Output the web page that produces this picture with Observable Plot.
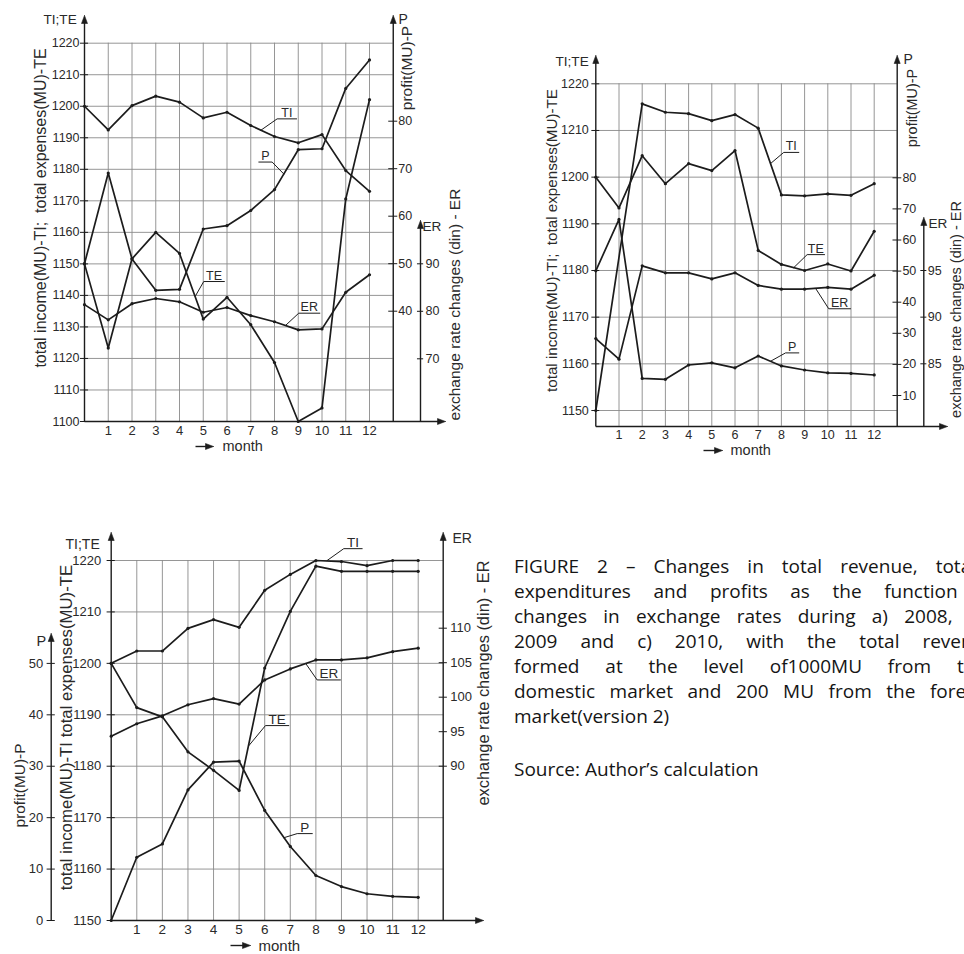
<!DOCTYPE html>
<html>
<head>
<meta charset="utf-8">
<script src="https://cdn.jsdelivr.net/npm/d3@7"></script>
<script src="https://cdn.jsdelivr.net/npm/@observablehq/plot@0.6"></script>
<style>
  html, body { margin: 0; padding: 0; background: #fff; }
  body { width: 964px; height: 954px; position: relative; overflow: hidden; }
  #stage { position: absolute; left: 0; top: 0; width: 964px; height: 954px; }
  #caption { position: absolute; left: 514px; top: 554px; font-family: "Open Sans", "Noto Sans", sans-serif;
             font-size: 19px; line-height: 25px; color: #151515; }
  #caption .jl { white-space: nowrap; text-align: justify; text-align-last: justify; }
  #caption .last { white-space: nowrap; }
  #source { position: absolute; left: 514px; top: 757px; font-family: "Open Sans", "Noto Sans", sans-serif;
            font-size: 19px; line-height: 25px; color: #151515; white-space: nowrap; }
</style>
</head>
<body>
<div id="stage"></div>
<div id="caption">
  <div class="jl" style="width:462px">FIGURE 2 – Changes in total revenue, total</div>
  <div class="jl" style="width:484px">expenditures and profits as the function of</div>
  <div class="jl" style="width:472px">changes in exchange rates during a) 2008, b)</div>
  <div class="jl" style="width:481px">2009 and c) 2010, with the total revenue</div>
  <div class="jl" style="width:472px">formed at the level of1000MU from the</div>
  <div class="jl" style="width:479px">domestic market and 200 MU from the foreign</div>
  <div class="last">market(version 2)</div>
</div>
<div id="source">Source: Author’s calculation</div>
<script>
// ---------------- data ----------------
const months = [0, 1, 2, 3, 4, 5, 6, 7, 8, 9, 10, 11, 12];
const monthLabels = [1, 2, 3, 4, 5, 6, 7, 8, 9, 10, 11, 12];

// a) 2008
const tiA = [1200, 1192.5, 1200.2, 1203.2, 1201.3, 1196.3, 1198.1, 1193.9, 1190.4, 1188.4, 1191.0, 1179.6, 1173.0];
const teA = [1150, 1123.3, 1151.6, 1160.0, 1153.3, 1132.5, 1139.4, 1130.7, 1118.7, 1100.0, 1104.3, 1170.6, 1202.1];
const pA  = [50.0, 69.1, 51.0, 44.4, 44.6, 57.3, 58.0, 61.2, 65.6, 74.0, 74.2, 86.9, 92.9];
const erA = [81.4, 78.2, 81.6, 82.7, 82.0, 79.8, 80.8, 79.1, 77.8, 76.1, 76.3, 84.0, 87.7];

// b) 2009
const tiB = [1150, null, 1215.7, 1213.9, 1213.6, 1212.1, 1213.4, 1210.5, 1196.2, 1196.0, 1196.4, 1196.1, 1198.6];
const teB = [1200, 1193.4, 1204.6, 1198.6, 1202.9, 1201.4, 1205.7, 1184.3, 1181.3, 1180.0, 1181.4, 1179.9, 1188.4];
const pB  = [50.1, 66.6, 15.5, 15.2, 19.8, 20.5, 18.9, 22.7, 19.5, 18.2, 17.3, 17.1, 16.6];
const erB = [87.7, 85.5, 95.5, 94.75, 94.75, 94.1, 94.75, 93.4, 93.0, 93.0, 93.2, 93.0, 94.5];

// c) 2010
const tiC = [1200, 1202.4, 1202.4, 1206.8, 1208.5, 1207.0, 1214.2, 1217.3, 1220.0, 1219.8, 1219.0, 1220.0, 1220.0];
const teC = [1200, 1191.4, 1189.6, 1182.8, 1179.2, 1175.3, 1199.1, 1210.1, 1218.9, 1217.9, 1217.9, 1217.9, 1217.9];
const pC  = [0, 12.3, 14.9, 25.4, 30.8, 31.0, 21.4, 14.4, 8.75, 6.6, 5.2, 4.7, 4.5];
const erC = [94.35, 96.15, 97.3, 98.9, 99.8, 99.0, 102.5, 104.1, 105.4, 105.4, 105.7, 106.6, 107.1];

// tick labels
const tiTicksA = [1100, 1110, 1120, 1130, 1140, 1150, 1160, 1170, 1180, 1190, 1200, 1210, 1220];
const pTicksA  = [40, 50, 60, 70, 80];
const erTicksA = [70, 80, 90];
const tiTicksB = [1150, 1160, 1170, 1180, 1190, 1200, 1210, 1220];
const pTicksB  = [10, 20, 30, 40, 50, 60, 70, 80];
const erTicksB = [85, 90, 95];
const tiTicksC = [1150, 1160, 1170, 1180, 1190, 1200, 1210, 1220];
const pTicksC  = [0, 10, 20, 30, 40, 50];
const erTicksC = [90, 95, 100, 105, 110];

// ---------------- styles / layout ----------------
const W = 964, H = 954;
const FONT = "'Liberation Sans', Arial, sans-serif";
const INK = "#1c1c1c", GRID = "#8a8a8a", TXT = "#2a2a2a";
const LW = 1.7;

const panels = [
  { xRange: [84, 392.75],
    ti: { domain: [1100, 1220], range: [421, 42.7], ticks: tiTicksA, data: [tiA, teA] },
    p:  { domain: [40, 80], range: [310.7, 120.7], ticks: pTicksA, data: pA, axisAt: 13, tick: 0.19, dx: 5, anchor: "start" },
    er: { domain: [70, 90], range: [358.3, 263.3], ticks: erTicksA, data: erA, axisAt: 14.15, tick: 0.13, dx: 5, anchor: "start" },
    gridBottom: 1100, tick: 0.17, tiDx: -5, monthDy: 4, tickFs: 12.5, monthFs: 13, labFs: 12.5,
    labels: {
      ti: [["TI", 8.11, 8.93, 1196.0, 7.41, 1192.3, false]],
      te: [["TE", 5.02, 5.89, 1144.4, 4.67, 1139.8, false]],
      p:  [["P", 7.34, 7.90, 71.4, 8.39, 68.9, true]],
      er: [["ER", 9.02, 9.91, 79.6, 8.46, 77.0, false]]
    } },
  { xRange: [595.3, 896.9],
    ti: { domain: [1150, 1220], range: [410, 83.3], ticks: tiTicksB, data: [tiB, teB] },
    p:  { domain: [10, 80], range: [395, 177.3], ticks: pTicksB, data: pB, axisAt: 13, tick: 0.19, dx: 5, anchor: "start" },
    er: { domain: [85, 95], range: [363.3, 270], ticks: erTicksB, data: erB, axisAt: 14.14, tick: 0.13, dx: 4, anchor: "start" },
    gridBottom: 1146.6, tick: 0.17, tiDx: -7, monthDy: 3.5, tickFs: 12.5, monthFs: 12.5, labFs: 12.5,
    labels: {
      ti: [["TI", 8.10, 8.75, 1205.3, 7.53, 1202.9, false]],
      te: [["TE", 9.11, 9.86, 1183.4, 8.53, 1180.6, false]],
      p:  [["P", 8.18, 8.75, 23.7, 7.53, 21.0, false]],
      er: [["ER", 10.04, 10.98, 90.9, 9.47, 93.1, false]]
    } },
  { xRange: [110.7, 443.3],
    ti: { domain: [1150, 1220], range: [920, 560], ticks: tiTicksC, data: [tiC, teC] },
    p:  { domain: [0, 50], range: [920, 662.9], ticks: pTicksC, data: pC, axisAt: -2.345, tick: 0.16, dx: -8, anchor: "end" },
    er: { domain: [90, 110], range: [765.7, 627.7], ticks: erTicksC, data: erC, axisAt: 12.98, tick: 0.16, dx: 7, anchor: "start" },
    gridBottom: 1150, tick: 0.16, tiDx: -10, monthDy: 4, tickFs: 13, monthFs: 13.5, labFs: 13.5,
    labels: {
      ti: [["TI", 9.09, 9.81, 1222.3, 8.44, 1220.0, false]],
      te: [["TE", 6.03, 6.94, 1187.9, 5.38, 1184.0, false]],
      p:  [["P", 7.27, 7.86, 16.9, 6.75, 16.1, false]],
      er: [["ER", 8.05, 8.96, 102.5, 7.60, 104.9, false]]
    } }
];

// ---------------- helpers ----------------
const pts = (vals) => months.map((m, i) => ({m, v: vals[i]})).filter(d => d.v != null);
const stage = document.getElementById("stage");

function addLayer(xDomain, xRange, yDomain, yRange, marks) {
  const svg = Plot.plot({
    width: W, height: H, marginTop: 0, marginRight: 0, marginBottom: 0, marginLeft: 0,
    x: {axis: null, domain: xDomain, range: xRange},
    y: {axis: null, domain: yDomain, range: yRange},
    style: {background: "transparent", fontFamily: FONT, fontSize: "12.5px", color: INK},
    marks
  });
  svg.style.position = "absolute";
  svg.style.left = "0px";
  svg.style.top = "0px";
  svg.style.background = "transparent";
  svg.style.maxWidth = "none";
  stage.append(svg);
}

function seriesMarks(vals) {
  return [
    Plot.line(pts(vals), {x: "m", y: "v", stroke: INK, strokeWidth: LW, strokeLinejoin: "round"}),
    Plot.dot(pts(vals), {x: "m", y: "v", r: 1.6, fill: INK, stroke: null})
  ];
}

function labelMarks(list, fs) {
  return list.flatMap(([name, u0, u1, uy, cx, cy, right]) => {
    const path = right
      ? [{x: u0, y: uy}, {x: u1, y: uy}, {x: cx, y: cy}]
      : [{x: cx, y: cy}, {x: u0, y: uy}, {x: u1, y: uy}];
    return [
      Plot.line(path, {x: "x", y: "y", stroke: INK, strokeWidth: 1}),
      Plot.text([name], {x: (u0 + u1) / 2, y: uy, dy: -2, text: d => d, lineAnchor: "bottom",
                         fontSize: fs, fill: TXT})
    ];
  });
}

// ---------------- panels ----------------
for (const P of panels) {
  const top = P.ti.ticks[P.ti.ticks.length - 1];
  // TI / TE layer with grid, left axis ticks and month labels
  addLayer([0, 13], P.xRange, P.ti.domain, P.ti.range, [
    Plot.ruleY(P.ti.ticks, {y: d => d, x1: 0, x2: 13, stroke: GRID, strokeWidth: 0.9}),
    Plot.ruleX(monthLabels, {x: d => d, y1: P.gridBottom, y2: top, stroke: GRID, strokeWidth: 0.9}),
    Plot.ruleY(P.ti.ticks, {y: d => d, x1: -P.tick, x2: P.tick, stroke: INK, strokeWidth: 1}),
    Plot.text(P.ti.ticks, {x: 0, y: d => d, text: d => String(d), dx: P.tiDx, textAnchor: "end",
                           fontSize: P.tickFs, fill: TXT}),
    Plot.text(monthLabels, {x: d => d, y: P.gridBottom, text: d => String(d), dy: P.monthDy,
                            lineAnchor: "top", fontSize: P.monthFs, fill: TXT}),
    ...seriesMarks(P.ti.data[0]),
    ...seriesMarks(P.ti.data[1]),
    ...labelMarks(P.labels.ti, P.labFs),
    ...labelMarks(P.labels.te, P.labFs)
  ]);
  // Profit layer
  addLayer([0, 13], P.xRange, P.p.domain, P.p.range, [
    Plot.ruleY(P.p.ticks, {y: d => d, x1: P.p.axisAt - P.p.tick, x2: P.p.axisAt + P.p.tick, stroke: INK, strokeWidth: 1}),
    Plot.text(P.p.ticks, {x: P.p.axisAt, y: d => d, text: d => String(d), dx: P.p.dx, textAnchor: P.p.anchor,
                          fontSize: P.tickFs, fill: TXT}),
    ...seriesMarks(P.p.data),
    ...labelMarks(P.labels.p, P.labFs)
  ]);
  // Exchange-rate layer
  addLayer([0, 13], P.xRange, P.er.domain, P.er.range, [
    Plot.ruleY(P.er.ticks, {y: d => d, x1: P.er.axisAt - P.er.tick, x2: P.er.axisAt + P.er.tick, stroke: INK, strokeWidth: 1}),
    Plot.text(P.er.ticks, {x: P.er.axisAt, y: d => d, text: d => String(d), dx: P.er.dx, textAnchor: P.er.anchor,
                           fontSize: P.tickFs, fill: TXT}),
    ...seriesMarks(P.er.data),
    ...labelMarks(P.labels.er, P.labFs)
  ]);
}

// ---------------- chrome (axis lines, arrows, titles) in page pixels ----------------
const axisLines = [
  // a
  [84, 421, 84, 22], [84, 421, 438, 421], [392.75, 421, 392.75, 22], [420, 421, 420, 227], [195, 446, 207, 446],
  // b
  [595.3, 426, 595.3, 62], [595.3, 426, 940, 426], [896.7, 426, 896.7, 62], [923.3, 426, 923.3, 224], [703, 450, 716, 450],
  // c
  [110.7, 920, 110.7, 539], [110.7, 920, 476, 920], [50.7, 920, 50.7, 640], [442.7, 920, 442.7, 539], [230, 945, 244, 945]
];
const upTips = [[84, 15], [392.75, 15], [420, 220], [595.3, 55], [896.7, 55], [923.3, 217], [110.7, 532], [50.7, 633], [442.7, 532]];
const rightTips = [[445, 421], [213, 446], [947, 426], [722, 450], [483, 920], [250, 945]];

const arrowPts = [
  ...upTips.flatMap(([x, y], i) => [[x, y], [x - 3, y + 8], [x + 3, y + 8], [x, y]].map(p => ({x: p[0], y: p[1], id: "u" + i}))),
  ...rightTips.flatMap(([x, y], i) => [[x, y], [x - 8, y - 3], [x - 8, y + 3], [x, y]].map(p => ({x: p[0], y: p[1], id: "r" + i})))
];

const flatTexts = [
  {x: 43, y: 23, t: "TI;TE", fs: 13.6}, {x: 398, y: 23, t: "P", fs: 14}, {x: 422, y: 230, t: "ER", fs: 13.6},
  {x: 222, y: 450.5, t: "month", fs: 14.5},
  {x: 555, y: 65, t: "TI;TE", fs: 13.6}, {x: 903, y: 63, t: "P", fs: 14}, {x: 928, y: 227, t: "ER", fs: 13.6},
  {x: 730, y: 454, t: "month", fs: 14.5},
  {x: 65, y: 548, t: "TI;TE", fs: 14}, {x: 36, y: 645, t: "P", fs: 14.5}, {x: 452, y: 542, t: "ER", fs: 14},
  {x: 258, y: 950.5, t: "month", fs: 15}
];
const rotTexts = [
  {x: 40, y: 207.5, t: "total income(MU)-TI;\u00a0 total expenses(MU)-TE", fs: 16},
  {x: 406.7, y: 67.5, t: "profit(MU)-P", fs: 15.5},
  {x: 454.3, y: 304, t: "exchange rate changes (din) - ER", fs: 15.5},
  {x: 551.7, y: 240, t: "total income(MU)-TI;\u00a0 total expenses(MU)-TE", fs: 15.2},
  {x: 911.7, y: 107.5, t: "profit(MU)-P", fs: 14.4},
  {x: 955.5, y: 309, t: "exchange rate changes (din) - ER", fs: 14.5},
  {x: 66, y: 727, t: "total income(MU)-TI total expenses(MU)-TE", fs: 16.8},
  {x: 20, y: 785, t: "profit(MU)-P", fs: 15.4},
  {x: 483.7, y: 682.5, t: "exchange rate changes (din) - ER", fs: 16.4}
];

addLayer([0, W], [0, W], [0, H], [0, H], [
  Plot.link(axisLines, {x1: d => d[0], y1: d => d[1], x2: d => d[2], y2: d => d[3], stroke: INK, strokeWidth: 1.4}),
  Plot.line(arrowPts, {x: "x", y: "y", z: "id", fill: INK, stroke: INK, strokeWidth: 0.6}),
  Plot.text(flatTexts, {x: "x", y: "y", text: "t", fontSize: d => d.fs, textAnchor: "start", lineAnchor: "bottom", fill: TXT}),
  Plot.text(rotTexts, {x: "x", y: "y", text: "t", fontSize: d => d.fs, rotate: -90, textAnchor: "middle",
                       lineAnchor: "middle", fill: TXT})
]);
</script>
</body>
</html>
